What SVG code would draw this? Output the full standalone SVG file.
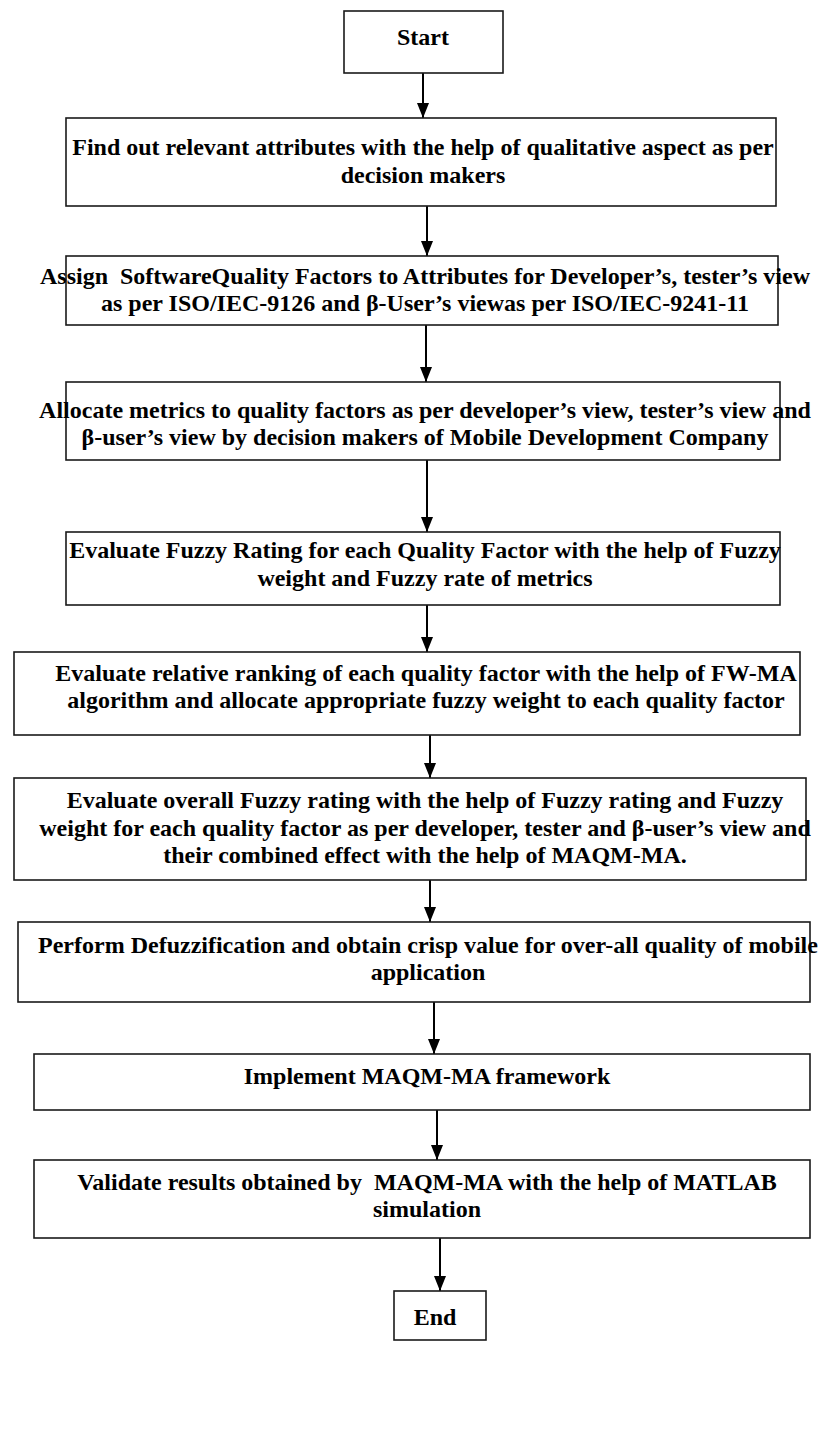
<svg xmlns="http://www.w3.org/2000/svg" width="830" height="1438" viewBox="0 0 830 1438">
  <style>
    .box { fill: #ffffff; stroke: #1a1a1a; stroke-width: 1.6; }
    .lbl { font-family: "Liberation Serif", "Times New Roman", serif; font-weight: bold; font-size: 24px; fill: #000000; text-anchor: middle; }
    .flow { stroke: #000000; stroke-width: 2; fill: none; marker-end: url(#head); }
  </style>
  <defs>
    <!-- filled triangular arrowhead, tip at the end of the line -->
    <marker id="head" markerWidth="15" markerHeight="12" refX="15" refY="6" orient="auto" markerUnits="userSpaceOnUse" viewBox="0 0 15 12">
      <path d="M0,0 L15,6 L0,12 Z" fill="#000000"/>
    </marker>
  </defs>
  <rect width="830" height="1438" fill="#ffffff"/>

  <!-- connectors -->
  <g id="connectors">
    <line class="flow" x1="423" y1="73" x2="423" y2="118"/>
    <line class="flow" x1="427" y1="206" x2="427" y2="256"/>
    <line class="flow" x1="426" y1="325" x2="426" y2="382"/>
    <line class="flow" x1="427" y1="460" x2="427" y2="532"/>
    <line class="flow" x1="427" y1="605" x2="427" y2="652"/>
    <line class="flow" x1="430" y1="735" x2="430" y2="778"/>
    <line class="flow" x1="430" y1="880" x2="430" y2="922"/>
    <line class="flow" x1="434" y1="1002" x2="434" y2="1054"/>
    <line class="flow" x1="437" y1="1110" x2="437" y2="1160"/>
    <line class="flow" x1="440" y1="1238" x2="440" y2="1291"/>
  </g>

  <g id="start">
    <rect class="box" x="344" y="11" width="159" height="62"/>
    <text class="lbl" x="423" y="45">Start</text>
  </g>

  <g id="step1">
    <rect class="box" x="66" y="118" width="710" height="88"/>
    <text class="lbl" x="423" y="155">Find out relevant attributes with the help of qualitative aspect as per</text>
    <text class="lbl" x="423" y="183">decision makers</text>
  </g>

  <g id="step2">
    <rect class="box" x="66" y="256" width="712" height="69"/>
    <text class="lbl" x="425" y="284" xml:space="preserve">Assign  SoftwareQuality Factors to Attributes for Developer’s, tester’s view</text>
    <text class="lbl" x="425" y="311">as per ISO/IEC-9126 and β-User’s viewas per ISO/IEC-9241-11</text>
  </g>

  <g id="step3">
    <rect class="box" x="66" y="382" width="714" height="78"/>
    <text class="lbl" x="425" y="418">Allocate metrics to quality factors as per developer’s view, tester’s view and</text>
    <text class="lbl" x="425" y="445">β-user’s view by decision makers of Mobile Development Company</text>
  </g>

  <g id="step4">
    <rect class="box" x="66" y="532" width="714" height="73"/>
    <text class="lbl" x="425" y="558">Evaluate Fuzzy Rating for each Quality Factor with the help of Fuzzy</text>
    <text class="lbl" x="425" y="586">weight and Fuzzy rate of metrics</text>
  </g>

  <g id="step5">
    <rect class="box" x="14" y="652" width="786" height="83"/>
    <text class="lbl" x="426" y="681">Evaluate relative ranking of each quality factor with the help of FW-MA</text>
    <text class="lbl" x="426" y="708">algorithm and allocate appropriate fuzzy weight to each quality factor</text>
  </g>

  <g id="step6">
    <rect class="box" x="14" y="778" width="792" height="102"/>
    <text class="lbl" x="425" y="808">Evaluate overall Fuzzy rating with the help of Fuzzy rating and Fuzzy</text>
    <text class="lbl" x="425" y="836">weight for each quality factor as per developer, tester and β-user’s view and</text>
    <text class="lbl" x="425" y="863">their combined effect with the help of MAQM-MA.</text>
  </g>

  <g id="step7">
    <rect class="box" x="18" y="922" width="792" height="80"/>
    <text class="lbl" x="428" y="953">Perform Defuzzification and obtain crisp value for over-all quality of mobile</text>
    <text class="lbl" x="428" y="980">application</text>
  </g>

  <g id="step8">
    <rect class="box" x="34" y="1054" width="776" height="56"/>
    <text class="lbl" x="427" y="1084">Implement MAQM-MA framework</text>
  </g>

  <g id="step9">
    <rect class="box" x="34" y="1160" width="776" height="78"/>
    <text class="lbl" x="427" y="1190" xml:space="preserve">Validate results obtained by  MAQM-MA with the help of MATLAB</text>
    <text class="lbl" x="427" y="1217">simulation</text>
  </g>

  <g id="end">
    <rect class="box" x="394" y="1291" width="92" height="49"/>
    <text class="lbl" x="435" y="1325">End</text>
  </g>
</svg>
